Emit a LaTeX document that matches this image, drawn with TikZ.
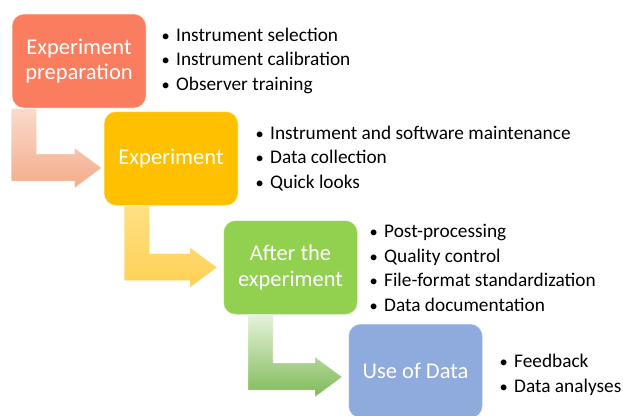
\documentclass[tikz,border=0pt]{standalone}
\usepackage{fontspec}
\setmainfont{Carlito}
\usetikzlibrary{calc}
\definecolor{cA}{RGB}{250,125,95}
\definecolor{cB}{RGB}{255,192,0}
\definecolor{cC}{RGB}{146,208,80}
\definecolor{cD}{RGB}{143,170,220}
\definecolor{aAt}{RGB}{250,218,204}
\definecolor{aAb}{RGB}{244,172,138}
\definecolor{aBt}{RGB}{255,224,130}
\definecolor{aBb}{RGB}{255,208,85}
\definecolor{aCt}{RGB}{228,242,218}
\definecolor{aCb}{RGB}{128,186,88}
% #1 start coordinate (top-left of shaft), #2 tip coordinate, #3 top colour, #4 bottom colour
\newcommand\bentarrow[4]{%
  \shade[top color=#3, bottom color=#4, draw=white, draw opacity=0.35, line width=0.8pt]
    let \p1=(#1), \p2=(#2) in
    (\x1,\y1) -- (\x1+25pt,\y1) -- (\x1+25pt,\y2+14pt) -- (\x2-27pt,\y2+14pt)
    -- (\x2-27pt,\y2+20pt) -- (\x2,\y2) -- (\x2-27pt,\y2-20pt) -- (\x2-27pt,\y2-13pt)
    -- (\x1,\y2-13pt) -- cycle;}
\newcommand\bul{\makebox[15pt][l]{\hspace{0.5pt}\scalebox{0.85}{•}}}
\begin{document}
\begin{tikzpicture}[x=1pt,y=-1pt,
  box/.style={draw=white, draw opacity=0.45, line width=1pt, rounded corners=12pt,
    minimum width=134pt, minimum height=94pt, text=white, align=center,
    font=\fontsize{22.5}{25.5}\selectfont, inner sep=0pt},
  bullets/.style={anchor=west, align=left, inner sep=0pt, text=black,
    font=\fontsize{19.3}{24.5}\selectfont}]
\clip (0,0) rectangle (623,415);
\fill[white] (0,0) rectangle (623,415);
% boxes
\node[box, fill=cA] (b1) at (79,61) {Experiment\\preparation};
\node[box, fill=cB] (b2) at (171,158.5) {Experiment};
\node[box, fill=cC] (b3) at (290.5,267.5) {After the\\experiment};
\node[box, fill=cD] (b4) at (415.5,371) {Use of Data};
% arrow ends
\coordinate (s1) at (b1.south west);
\coordinate (t1) at ($(b2.west)+(-2,9.5)$);
\coordinate (s2) at ($(b2.south west)+(21,0)$);
\coordinate (t2) at ($(b3.west)+(-6,0)$);
\coordinate (s3) at ($(b3.south west)+(25,0)$);
\coordinate (t3) at ($(b4.west)+(-6,6)$);
\bentarrow{s1}{t1}{aAt}{aAb}
\bentarrow{s2}{t2}{aBt}{aBb}
\bentarrow{s3}{t3}{aCt}{aCb}
% bullet lists
\node[bullets] (l1) at (161,60.5) {\bul Instrument selection\\\bul Instrument calibration\\\bul Observer training};
\node[bullets] (l2) at (255,158.5) {\bul Instrument and software maintenance\\\bul Data collection\\\bul Quick looks};
\node[bullets] (l3) at (369,268) {\bul Post-processing\\\bul Quality control\\\bul File-format standardization\\\bul Data documentation};
\node[bullets] (l4) at (499,375) {\bul Feedback\\\bul Data analyses};
\end{tikzpicture}
\end{document}
